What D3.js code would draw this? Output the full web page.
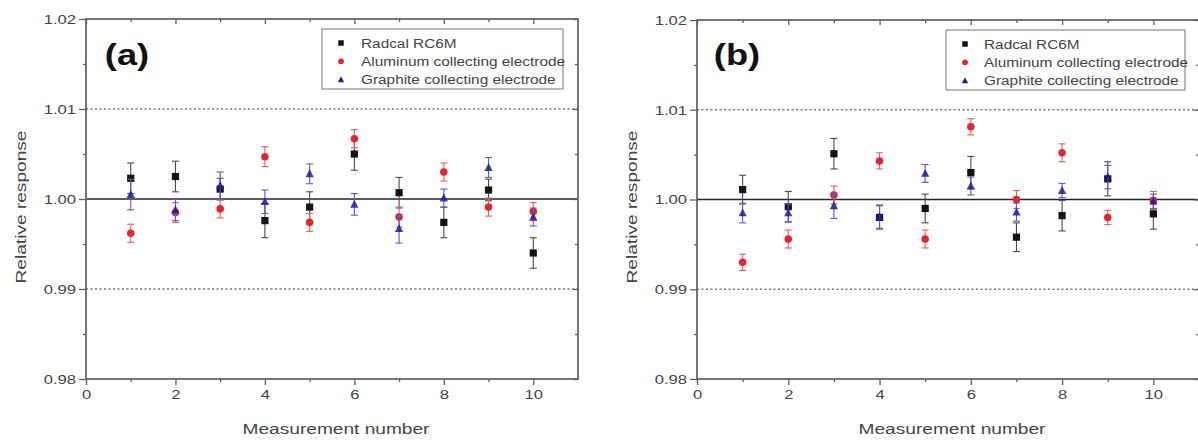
<!DOCTYPE html>
<html><head><meta charset="utf-8">
<script src="https://cdn.jsdelivr.net/npm/d3@7"></script>
<style>body{margin:0;background:#fff}svg{display:block}</style>
</head><body>
<svg id="c" width="1198" height="442"></svg>
<script>
// ---- data ----
const measurements = [1,2,3,4,5,6,7,8,9,10];
const seriesNames = ["Radcal RC6M","Aluminum collecting electrode","Graphite collecting electrode"];
const xTicks = [0,2,4,6,8,10];
const yTicks = [0.98,0.99,1.00,1.01,1.02];
const yTickLabels = ["0.98","0.99","1.00","1.01","1.02"];
const panelLabels = ["(a)","(b)"];

const radcalA   = [1.0023,1.0025,1.0011,0.9976,0.9991,1.0050,1.0007,0.9974,1.0010,0.9940];
const radcalAErr= [0.0017,0.0017,0.0012,0.0019,0.0017,0.0018,0.0017,0.0017,0.0012,0.0017];
const alumA     = [0.9962,0.9985,0.9989,1.0047,0.9974,1.0067,0.9980,1.0030,0.9991,0.9986];
const alumAErr  = [0.0010,0.0011,0.0010,0.0011,0.0010,0.0010,0.0011,0.0010,0.0010,0.0010];
const graphA    = [1.0005,0.9988,1.0015,0.9997,1.0028,0.9994,0.9967,1.0001,1.0035,0.9980];
const graphAErr = [0.0017,0.0012,0.0015,0.0013,0.0011,0.0012,0.0016,0.0010,0.0011,0.0010];

const radcalB   = [1.0011,0.9992,1.0051,0.9980,0.9990,1.0030,0.9958,0.9982,1.0023,0.9984];
const radcalBErr= [0.0016,0.0017,0.0017,0.0013,0.0016,0.0018,0.0016,0.0017,0.0019,0.0017];
const alumB     = [0.9930,0.9956,1.0005,1.0043,0.9956,1.0081,1.0000,1.0052,0.9980,0.9999];
const alumBErr  = [0.0009,0.0010,0.0010,0.0009,0.0010,0.0009,0.0010,0.0010,0.0008,0.0010];
const graphB    = [0.9985,0.9985,0.9993,0.9981,1.0029,1.0015,0.9986,1.0010,1.0025,0.9998];
const graphBErr = [0.0011,0.0010,0.0014,0.0013,0.0010,0.0010,0.0010,0.0008,0.0013,0.0008];

// ---- styling ----
const SX = 1.25; // horizontal text stretch of the reference
const FONT = "'Liberation Sans', Arial, Helvetica, sans-serif";
const colors = ["#141414","#e3262e","#1c1ca6"];
const errColors = ["#4a4a4a","#e85a60","#5a5ad0"];
const frameColor = "#5e5e5e";
const textColor = "#444";

const svg = d3.select("#c");

function stretchedText(g, x, y, str, size, opts={}) {
  return g.append("text")
    .attr("transform", `translate(${x},${y})${opts.rotate?` rotate(${opts.rotate})`:""} scale(${SX},1)`)
    .attr("font-family", FONT).attr("font-size", size)
    .attr("fill", opts.fill || textColor)
    .attr("font-weight", opts.weight || "normal")
    .attr("text-anchor", opts.anchor || "start")
    .text(str);
}

function marker(g, type, x, y, s, color, op) {
  if (type === 0) {
    g.append("rect").attr("x", x - s/2).attr("y", y - s/2).attr("width", s).attr("height", s)
      .attr("fill", color).attr("opacity", op);
  } else if (type === 1) {
    g.append("circle").attr("cx", x).attr("cy", y).attr("r", s/2*1.05).attr("fill", color).attr("opacity", op);
  } else {
    const h = s * 1.05, w = s * 1.15;
    g.append("path").attr("d", `M${x},${y - h*0.6}L${x + w/2},${y + h*0.45}L${x - w/2},${y + h*0.45}Z`)
      .attr("fill", color).attr("opacity", op);
  }
}

function drawPanel(cfg) {
  const {left, right, top, bottom, series, errs, label, legend} = cfg;
  const g = svg.append("g");
  const x = d3.scaleLinear().domain([0, 11]).range([left, right]);
  const y = d3.scaleLinear().domain([0.98, 1.02]).range([bottom, top]);

  // reference lines
  [0.99, 1.01].forEach(v => {
    g.append("line").attr("x1", left).attr("x2", right).attr("y1", y(v)).attr("y2", y(v))
      .attr("stroke", "#777").attr("stroke-width", 1.6).attr("stroke-dasharray", "2,2.5");
  });
  g.append("line").attr("x1", left).attr("x2", right).attr("y1", y(1.0)).attr("y2", y(1.0))
    .attr("stroke", "#262626").attr("stroke-width", 1.7);

  // axes
  const minorX = d3.range(1, 11, 2);
  const minorY = [0.985, 0.995, 1.005, 1.015];
  function styleAxis(sel) {
    sel.select(".domain").remove();
    sel.selectAll(".tick line").attr("stroke", frameColor).attr("stroke-width", 1.3);
  }
  const axB = g.append("g").attr("transform", `translate(0,${bottom})`)
    .call(d3.axisBottom(x).tickValues(xTicks).tickFormat(d3.format("d")).tickSizeInner(6).tickSizeOuter(0).tickPadding(5));
  styleAxis(axB);
  g.append("g").attr("transform", `translate(0,${bottom})`)
    .call(d3.axisBottom(x).tickValues(minorX).tickFormat("").tickSize(3).tickSizeOuter(0)).call(styleAxis);
  const axL = g.append("g").attr("transform", `translate(${left},0)`)
    .call(d3.axisLeft(y).tickValues(yTicks).tickFormat((d,i) => yTickLabels[i]).tickSizeInner(7).tickSizeOuter(0).tickPadding(3));
  styleAxis(axL);
  g.append("g").attr("transform", `translate(${left},0)`)
    .call(d3.axisLeft(y).tickValues(minorY).tickFormat("").tickSize(3).tickSizeOuter(0)).call(styleAxis);
  g.append("g").attr("transform", `translate(0,${top})`)
    .call(d3.axisTop(x).tickValues(xTicks).tickFormat("").tickSize(-5).tickSizeOuter(0)).call(styleAxis);
  g.append("g").attr("transform", `translate(0,${top})`)
    .call(d3.axisTop(x).tickValues(minorX).tickFormat("").tickSize(-3).tickSizeOuter(0)).call(styleAxis);
  g.append("g").attr("transform", `translate(${right},0)`)
    .call(d3.axisRight(y).tickValues(yTicks).tickFormat("").tickSize(-5).tickSizeOuter(0)).call(styleAxis);
  g.append("g").attr("transform", `translate(${right},0)`)
    .call(d3.axisRight(y).tickValues(minorY).tickFormat("").tickSize(-3).tickSizeOuter(0)).call(styleAxis);

  // stretch tick label text
  [axB, axL].forEach(ax => {
    ax.selectAll(".tick text").each(function() {
      const t = d3.select(this);
      const tx = +t.attr("x") || 0, ty = +t.attr("y") || 0;
      t.attr("transform", `translate(${tx},${ty}) scale(${SX},1)`).attr("x", 0).attr("y", 0)
        .attr("font-family", FONT).attr("font-size", 13.3).attr("fill", textColor);
    });
  });

  // frame
  g.append("rect").attr("x", left).attr("y", top).attr("width", right - left).attr("height", bottom - top)
    .attr("fill", "none").attr("stroke", frameColor).attr("stroke-width", 1.7);

  // error bars and markers
  [0, 1, 2].forEach(si => {
    const vals = series[si], er = errs[si];
    const sg = g.append("g");
    measurements.forEach((m, i) => {
      const cx = x(m), y1 = y(vals[i] + er[i]), y2 = y(vals[i] - er[i]);
      sg.append("line").attr("x1", cx).attr("x2", cx).attr("y1", y1).attr("y2", y2)
        .attr("stroke", errColors[si]).attr("stroke-width", 1.1);
      [y1, y2].forEach(yy => sg.append("line").attr("x1", cx - 3.5).attr("x2", cx + 3.5)
        .attr("y1", yy).attr("y2", yy).attr("stroke", errColors[si]).attr("stroke-width", 1.1));
    });
    measurements.forEach((m, i) => {
      marker(sg, si, x(m), y(vals[i]), 7.2, colors[si], si === 2 ? 0.85 : 1);
    });
  });

  // panel label
  stretchedText(g, label.x, label.y, label.text, 29, {weight: "bold", fill: "#111", anchor: "middle"});

  // legend
  g.append("rect").attr("x", legend.x).attr("y", legend.y).attr("width", legend.w).attr("height", legend.h)
    .attr("fill", "#fff").attr("stroke", "#8a8a8a").attr("stroke-width", 1.2);
  seriesNames.forEach((n, i) => {
    const ly = legend.y + 14 + i * 18.3;
    marker(g, i, legend.mx, ly, 5.5, colors[i], 1);
    stretchedText(g, legend.tx, ly + 4.5, n, 12.3, {fill: "#444"});
  });

  // axis titles
  stretchedText(g, (left + right) / 2 + 4, 434, "Measurement number", 15.3, {anchor: "middle"});
  stretchedText(g, cfg.ytitleX, 207, "Relative response", 15.3, {anchor: "middle", rotate: -90});
}

drawPanel({
  left: 86, right: 578, top: 19, bottom: 379,
  series: [radcalA, alumA, graphA], errs: [radcalAErr, alumAErr, graphAErr],
  label: {x: 127, y: 65, text: panelLabels[0]},
  legend: {x: 322, y: 29, w: 241, h: 60, mx: 341, tx: 361},
  ytitleX: 26
});
drawPanel({
  left: 697, right: 1199, top: 20, bottom: 379,
  series: [radcalB, alumB, graphB], errs: [radcalBErr, alumBErr, graphBErr],
  label: {x: 737, y: 65, text: panelLabels[1]},
  legend: {x: 946, y: 30, w: 239, h: 60, mx: 965, tx: 984},
  ytitleX: 637
});
</script>
</body></html>
